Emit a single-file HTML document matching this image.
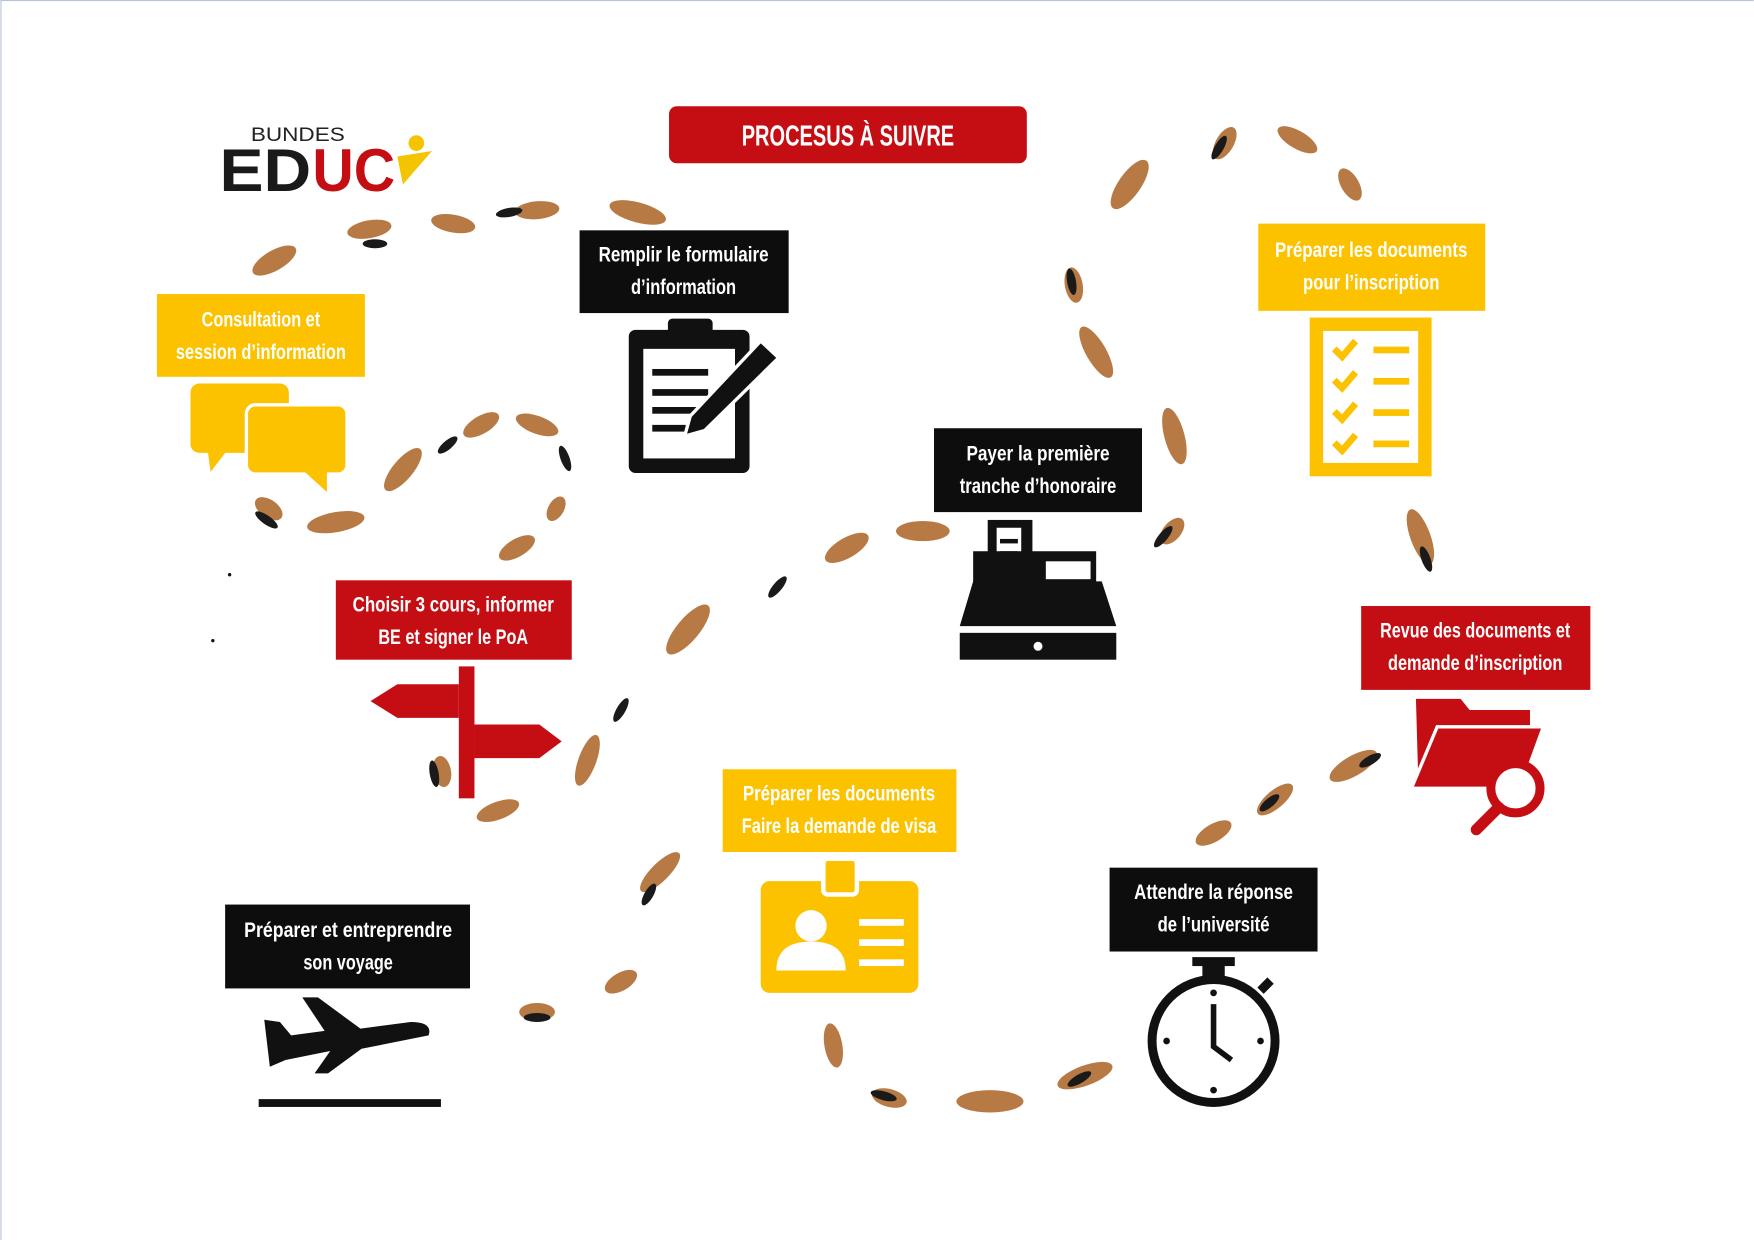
<!DOCTYPE html>
<html><head><meta charset="utf-8"><style>
html,body{margin:0;padding:0;background:#fff;}
svg{display:block;}
.t{font-family:"Liberation Sans Narrow","Liberation Sans",sans-serif;font-weight:bold;font-size:19px;text-anchor:middle;}
</style></head><body>
<svg width="1754" height="1240" viewBox="0 0 1568 1109" xmlns="http://www.w3.org/2000/svg">
<rect x="0" y="0" width="1568" height="1109" fill="#fff"/>
<line x1="0.5" y1="0" x2="0.5" y2="1109" stroke="#b8c4d4"/>
<line x1="0" y1="0.5" x2="1568" y2="0.5" stroke="#b8c4d4"/>
<g id="fp">
<g fill="#b87a45">
<ellipse cx="245" cy="233" rx="22" ry="9" transform="rotate(-30 245 233)"/>
<ellipse cx="330" cy="205" rx="20" ry="8" transform="rotate(-10 330 205)"/>
<ellipse cx="405" cy="200" rx="20" ry="8" transform="rotate(10 405 200)"/>
<ellipse cx="480" cy="188" rx="20" ry="8" transform="rotate(-5 480 188)"/>
<ellipse cx="570" cy="190" rx="26" ry="9" transform="rotate(15 570 190)"/>
<ellipse cx="300" cy="467" rx="26" ry="9" transform="rotate(-10 300 467)"/>
<ellipse cx="360" cy="420" rx="24" ry="9" transform="rotate(-50 360 420)"/>
<ellipse cx="430" cy="380" rx="18" ry="8" transform="rotate(-30 430 380)"/>
<ellipse cx="480" cy="380" rx="20" ry="8" transform="rotate(20 480 380)"/>
<ellipse cx="497" cy="455" rx="12" ry="7" transform="rotate(-60 497 455)"/>
<ellipse cx="462" cy="490" rx="18" ry="8" transform="rotate(-30 462 490)"/>
<ellipse cx="445" cy="725" rx="20" ry="8" transform="rotate(-20 445 725)"/>
<ellipse cx="525" cy="680" rx="24" ry="8" transform="rotate(-70 525 680)"/>
<ellipse cx="615" cy="563" rx="28" ry="10" transform="rotate(-50 615 563)"/>
<ellipse cx="757" cy="490" rx="22" ry="9" transform="rotate(-30 757 490)"/>
<ellipse cx="825" cy="475" rx="24" ry="9" transform="rotate(0 825 475)"/>
<ellipse cx="1010" cy="165" rx="26" ry="10" transform="rotate(-55 1010 165)"/>
<ellipse cx="1160" cy="125" rx="20" ry="8" transform="rotate(30 1160 125)"/>
<ellipse cx="1207" cy="165" rx="16" ry="8" transform="rotate(60 1207 165)"/>
<ellipse cx="980" cy="315" rx="26" ry="9" transform="rotate(60 980 315)"/>
<ellipse cx="1050" cy="390" rx="26" ry="9" transform="rotate(75 1050 390)"/>
<ellipse cx="1210" cy="685" rx="24" ry="9" transform="rotate(-30 1210 685)"/>
<ellipse cx="1085" cy="745" rx="18" ry="8" transform="rotate(-30 1085 745)"/>
<ellipse cx="590" cy="780" rx="24" ry="8" transform="rotate(-45 590 780)"/>
<ellipse cx="555" cy="878" rx="16" ry="8" transform="rotate(-30 555 878)"/>
<ellipse cx="745" cy="935" rx="20" ry="8" transform="rotate(80 745 935)"/>
<ellipse cx="885" cy="985" rx="30" ry="10"/>
<ellipse cx="970" cy="962" rx="26" ry="9" transform="rotate(-20 970 962)"/>
<ellipse cx="1270" cy="480" rx="26" ry="9" transform="rotate(70 1270 480)"/>
<ellipse cx="1140" cy="715" rx="20" ry="8" transform="rotate(-40 1140 715)"/>
<ellipse cx="1048" cy="475" rx="14" ry="8" transform="rotate(-50 1048 475)"/>
<ellipse cx="960" cy="255" rx="16" ry="8" transform="rotate(80 960 255)"/>
<ellipse cx="1095" cy="128" rx="16" ry="8" transform="rotate(-60 1095 128)"/>
<ellipse cx="240" cy="455" rx="14" ry="8" transform="rotate(35 240 455)"/>
<ellipse cx="395" cy="690" rx="14" ry="8" transform="rotate(80 395 690)"/>
<ellipse cx="480" cy="905" rx="16" ry="8"/>
<ellipse cx="795" cy="982" rx="16" ry="8" transform="rotate(15 795 982)"/>
</g>
<g fill="#1a1a1a">
<ellipse cx="455" cy="190" rx="12" ry="4" transform="rotate(-10 455 190)"/>
<ellipse cx="335" cy="218" rx="11" ry="4"/>
<ellipse cx="238" cy="465" rx="12" ry="4" transform="rotate(35 238 465)"/>
<ellipse cx="400" cy="398" rx="11" ry="4" transform="rotate(-40 400 398)"/>
<ellipse cx="505" cy="410" rx="12" ry="4" transform="rotate(70 505 410)"/>
<ellipse cx="388" cy="692" rx="12" ry="4" transform="rotate(80 388 692)"/>
<ellipse cx="555" cy="635" rx="12" ry="4" transform="rotate(-60 555 635)"/>
<ellipse cx="695" cy="525" rx="12" ry="4" transform="rotate(-50 695 525)"/>
<ellipse cx="1090" cy="132" rx="12" ry="4" transform="rotate(-60 1090 132)"/>
<ellipse cx="958" cy="252" rx="12" ry="4" transform="rotate(80 958 252)"/>
<ellipse cx="1040" cy="480" rx="12" ry="4" transform="rotate(-50 1040 480)"/>
<ellipse cx="1275" cy="500" rx="12" ry="4" transform="rotate(70 1275 500)"/>
<ellipse cx="1225" cy="680" rx="11" ry="4" transform="rotate(-30 1225 680)"/>
<ellipse cx="1135" cy="718" rx="11" ry="4" transform="rotate(-40 1135 718)"/>
<ellipse cx="580" cy="800" rx="11" ry="4" transform="rotate(-60 580 800)"/>
<ellipse cx="480" cy="910" rx="12" ry="4"/>
<ellipse cx="790" cy="980" rx="12" ry="4" transform="rotate(15 790 980)"/>
<ellipse cx="965" cy="965" rx="12" ry="4" transform="rotate(-30 965 965)"/>
</g>
</g>
<!-- title -->
<rect x="598" y="95" width="320" height="51" rx="7" fill="#c50e14"/>
<text x="758" y="130" class="t" style="font-size:26px" fill="#fff" textLength="190" lengthAdjust="spacingAndGlyphs">PROCESUS À SUIVRE</text>
<!-- logo -->
<text x="224" y="126" font-family="Liberation Sans" font-size="17" fill="#222" textLength="84" lengthAdjust="spacingAndGlyphs">BUNDES</text>
<text x="196" y="171" font-family="Liberation Sans" font-weight="bold" font-size="54" fill="#1a1a1a" textLength="82" lengthAdjust="spacingAndGlyphs">ED</text>
<text x="279" y="171" font-family="Liberation Sans" font-weight="bold" font-size="54" fill="#c50e14" textLength="74" lengthAdjust="spacingAndGlyphs">UC</text>
<polygon points="355,140 386,135 360,165" fill="#f5c400"/>
<circle cx="372" cy="128" r="7" fill="#f5c400"/>
<!-- boxes -->
<rect x="140" y="263" width="186" height="74" fill="#fcc200"/>
<text x="233" y="292" class="t" fill="#fff" textLength="106" lengthAdjust="spacingAndGlyphs">Consultation et</text><text x="233" y="321" class="t" fill="#fff" textLength="152" lengthAdjust="spacingAndGlyphs">session d’information</text>
<rect x="518" y="206" width="187" height="74" fill="#0d0d0d"/>
<text x="611" y="234" class="t" fill="#fff" textLength="152" lengthAdjust="spacingAndGlyphs">Remplir le formulaire</text><text x="611" y="263" class="t" fill="#fff" textLength="94" lengthAdjust="spacingAndGlyphs">d’information</text>
<rect x="1125" y="200" width="203" height="78" fill="#fcc200"/>
<text x="1226" y="230" class="t" fill="#fff" textLength="172" lengthAdjust="spacingAndGlyphs">Préparer les documents</text><text x="1226" y="259" class="t" fill="#fff" textLength="122" lengthAdjust="spacingAndGlyphs">pour l’inscription</text>
<rect x="835" y="383" width="186" height="75" fill="#0d0d0d"/>
<text x="928" y="412" class="t" fill="#fff" textLength="128" lengthAdjust="spacingAndGlyphs">Payer la première</text><text x="928" y="441" class="t" fill="#fff" textLength="140" lengthAdjust="spacingAndGlyphs">tranche d’honoraire</text>
<rect x="300" y="519" width="211" height="71" fill="#c50e14"/>
<text x="405" y="547" class="t" fill="#fff" textLength="180" lengthAdjust="spacingAndGlyphs">Choisir 3 cours, informer</text><text x="405" y="576" class="t" fill="#fff" textLength="134" lengthAdjust="spacingAndGlyphs">BE et signer le PoA</text>
<rect x="1217" y="542" width="205" height="75" fill="#c50e14"/>
<text x="1319" y="570" class="t" fill="#fff" textLength="170" lengthAdjust="spacingAndGlyphs">Revue des documents et</text><text x="1319" y="599" class="t" fill="#fff" textLength="156" lengthAdjust="spacingAndGlyphs">demande d’inscription</text>
<rect x="646" y="688" width="209" height="74" fill="#fcc200"/>
<text x="750" y="716" class="t" fill="#fff" textLength="172" lengthAdjust="spacingAndGlyphs">Préparer les documents</text><text x="750" y="745" class="t" fill="#fff" textLength="174" lengthAdjust="spacingAndGlyphs">Faire la demande de visa</text>
<rect x="992" y="776" width="186" height="75" fill="#0d0d0d"/>
<text x="1085" y="804" class="t" fill="#fff" textLength="142" lengthAdjust="spacingAndGlyphs">Attendre la réponse</text><text x="1085" y="833" class="t" fill="#fff" textLength="100" lengthAdjust="spacingAndGlyphs">de l’université</text>
<rect x="201" y="809" width="219" height="75" fill="#0d0d0d"/>
<text x="311" y="838" class="t" fill="#fff" textLength="186" lengthAdjust="spacingAndGlyphs">Préparer et entreprendre</text><text x="311" y="867" class="t" fill="#fff" textLength="80" lengthAdjust="spacingAndGlyphs">son voyage</text>
<!-- chat icon -->
<rect x="170" y="343" width="88" height="62" rx="8" fill="#fcc200"/>
<polygon points="185,400 188,422 205,400" fill="#fcc200"/>
<rect x="220" y="362" width="90" height="62" rx="8" stroke="#fff" stroke-width="3" fill="#fcc200"/>
<polygon points="270,420 292,440 292,420" fill="#fcc200"/>
<!-- clipboard -->
<rect x="562" y="295" width="108" height="128" rx="6" fill="#111"/>
<rect x="575" y="312" width="82" height="98" fill="#fff"/>
<rect x="597" y="285" width="40" height="20" rx="4" fill="#111"/>
<g fill="#111"><rect x="583" y="330" width="50" height="6"/><rect x="583" y="348" width="50" height="6"/><rect x="583" y="364" width="40" height="6"/><rect x="583" y="380" width="30" height="6"/></g>
<polygon points="680,305 696,320 630,385 612,390 617,372" fill="#111" stroke="#fff" stroke-width="3"/>
<!-- checklist -->
<rect x="1171" y="284" width="109" height="142" fill="#fcc200"/>
<rect x="1183" y="296" width="85" height="118" fill="#fff"/>
<g stroke="#fcc200" stroke-width="6" fill="none"><path d="M1193,312 l7,7 l12,-14"/><path d="M1193,340 l7,7 l12,-14"/><path d="M1193,368 l7,7 l12,-14"/><path d="M1193,396 l7,7 l12,-14"/></g>
<g fill="#fcc200"><rect x="1228" y="310" width="32" height="6"/><rect x="1228" y="338" width="32" height="6"/><rect x="1228" y="366" width="32" height="6"/><rect x="1228" y="394" width="32" height="6"/></g>
<!-- cash register -->
<rect x="883" y="465" width="40" height="60" fill="#111"/>
<rect x="891" y="472" width="22" height="46" fill="#fff"/>
<g fill="#111"><rect x="894" y="482" width="16" height="4"/><rect x="894" y="493" width="16" height="4"/><rect x="894" y="504" width="16" height="4"/></g>
<rect x="870" y="493" width="110" height="30" fill="#111"/>
<rect x="935" y="502" width="40" height="16" fill="#fff"/>
<polygon points="870,520 985,520 998,560 858,560" fill="#111"/>
<rect x="858" y="566" width="140" height="24" fill="#111"/>
<circle cx="928" cy="578" r="4" fill="#fff"/>
<!-- signpost -->
<rect x="410" y="596" width="14" height="118" fill="#c50e14"/>
<polygon points="410,612 355,612 331,627 355,642 410,642" fill="#c50e14"/>
<polygon points="424,648 482,648 502,663 482,678 424,678" fill="#c50e14"/>
<!-- folder -->
<path d="M1266,625 h40 l8,10 h54 v60 l-100,0 z" fill="#c50e14"/>
<polygon points="1262,705 1285,650 1380,650 1360,705" fill="#c50e14" stroke="#fff" stroke-width="3"/>
<circle cx="1355" cy="705" r="22" fill="#fff" stroke="#c50e14" stroke-width="8"/>
<line x1="1340" y1="722" x2="1320" y2="742" stroke="#c50e14" stroke-width="10" stroke-linecap="round"/>
<!-- id card -->
<rect x="680" y="788" width="141" height="100" rx="8" fill="#fcc200"/>
<rect x="736" y="768" width="30" height="32" rx="4" fill="#fcc200" stroke="#fff" stroke-width="4"/>
<circle cx="725" cy="828" r="14" fill="#fff"/>
<path d="M694,868 q0,-26 31,-26 q31,0 31,26 z" fill="#fff"/>
<g fill="#fff"><rect x="768" y="822" width="40" height="6"/><rect x="768" y="840" width="40" height="6"/><rect x="768" y="858" width="40" height="6"/></g>
<!-- stopwatch -->
<circle cx="1085" cy="931" r="55" fill="none" stroke="#111" stroke-width="8"/>
<rect x="1075" y="862" width="20" height="14" fill="#111"/>
<rect x="1066" y="856" width="38" height="8" fill="#111"/>
<line x1="1127" y1="886" x2="1136" y2="877" stroke="#111" stroke-width="8"/>
<path d="M1085,898 v38 l16,12" stroke="#111" stroke-width="5" fill="none"/>
<g fill="#111"><circle cx="1085" cy="888" r="3"/><circle cx="1085" cy="975" r="3"/><circle cx="1043" cy="931" r="3"/><circle cx="1127" cy="931" r="3"/></g>
<!-- plane -->
<path d="M236,912 l14,2 l10,12 l30,-4 l-20,-30 l14,0 l38,28 l45,-6 q20,0 16,12 l-60,12 l-30,22 l-12,0 l14,-20 l-40,8 l-14,6 z" fill="#111"/>
<rect x="231" y="983" width="163" height="7" fill="#111"/>
<circle cx="205" cy="514" r="1.5" fill="#111"/><circle cx="190" cy="573" r="1.5" fill="#111"/>
</svg>
</body></html>
